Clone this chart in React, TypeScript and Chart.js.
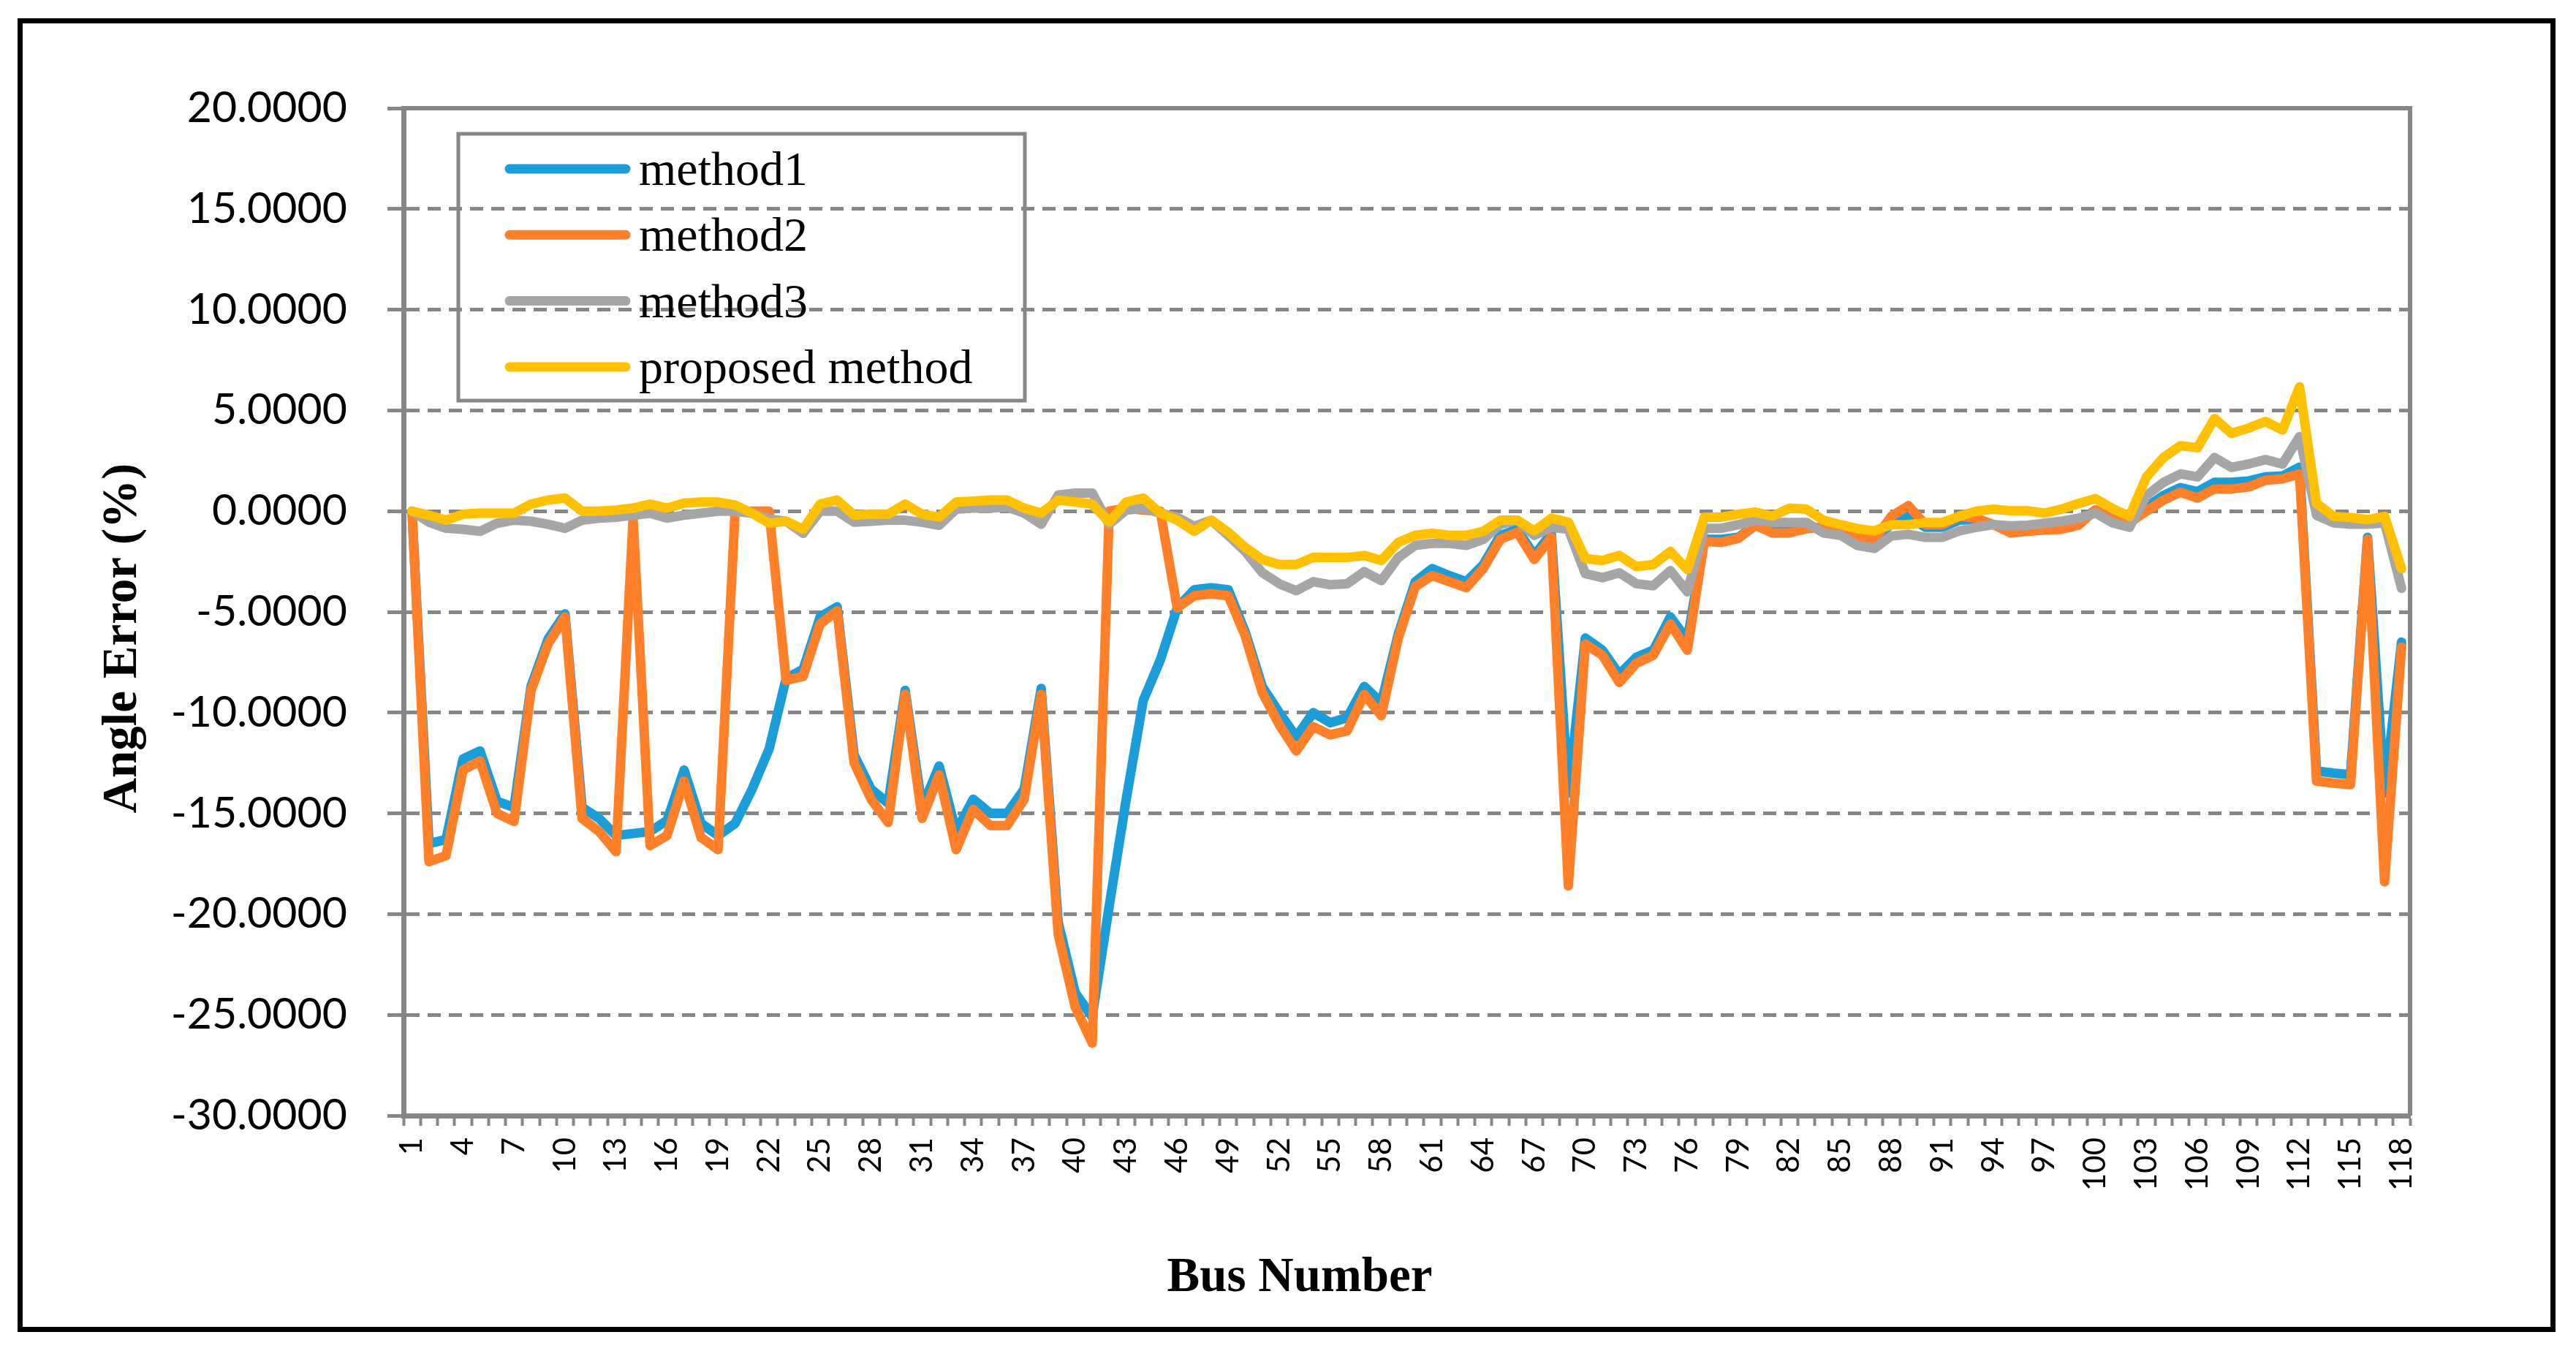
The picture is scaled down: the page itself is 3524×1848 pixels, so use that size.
import React, { useEffect, useRef } from "react";
import { Chart, registerables } from "chart.js";

Chart.register(...registerables);

const BUS_NUMBERS = [
  "1", "2", "3", "4", "5", "6", "7", "8", "9", "10",
  "11", "12", "13", "14", "15", "16", "17", "18", "19", "20",
  "21", "22", "23", "24", "25", "26", "27", "28", "29", "30",
  "31", "32", "33", "34", "35", "36", "37", "38", "39", "40",
  "41", "42", "43", "44", "45", "46", "47", "48", "49", "50",
  "51", "52", "53", "54", "55", "56", "57", "58", "59", "60",
  "61", "62", "63", "64", "65", "66", "67", "68", "69", "70",
  "71", "72", "73", "74", "75", "76", "77", "78", "79", "80",
  "81", "82", "83", "84", "85", "86", "87", "88", "89", "90",
  "91", "92", "93", "94", "95", "96", "97", "98", "99", "100",
  "101", "102", "103", "104", "105", "106", "107", "108", "109", "110",
  "111", "112", "113", "114", "115", "116", "117", "118",
];

const SHOWN_X_TICKS = [
  "1", "4", "7", "10", "13", "16", "19", "22", "25", "28", "31", "34", "37", "40",
  "43", "46", "49", "52", "55", "58", "61", "64", "67", "70", "73", "76", "79",
  "82", "85", "88", "91", "94", "97", "100", "103", "106", "109", "112", "115", "118",
];

const METHOD1 = [
  0, -16.5, -16.3, -12.3, -11.9, -14.4, -14.7, -8.7, -6.35, -5.1,
  -14.7, -15.25, -16.1, -16.0, -15.9, -15.35, -12.85, -15.5, -16.1, -15.5,
  -13.8, -11.8, -8.3, -7.85, -5.25, -4.75, -12.1, -13.8, -14.5, -8.9,
  -14.7, -12.65, -15.9, -14.3, -15.0, -15.0, -13.8, -8.8, -20.4, -23.9,
  -25.1, -19.6, -14.3, -9.4, -7.4, -4.8, -3.9, -3.8, -3.9, -6.0,
  -8.7, -10.0, -11.2, -10.0, -10.5, -10.25, -8.7, -9.5, -6.1, -3.5,
  -2.85, -3.2, -3.5, -2.65, -1.2, -0.9, -2.2, -1.1, -14.0, -6.3,
  -6.9, -8.1, -7.25, -6.9, -5.25, -6.4, -1.4, -1.4, -1.3, -0.65,
  -1.0, -1.0, -0.85, -0.8, -0.95, -1.25, -1.35, -0.65, -0.25, -0.8,
  -0.8, -0.45, -0.4, -0.67, -0.9, -0.85, -0.8, -0.75, -0.55, 0.06,
  -0.4, -0.55, 0.2, 0.78, 1.17, 0.97, 1.43, 1.43, 1.5, 1.7,
  1.75, 2.18, -12.9, -13.0, -13.08, -1.3, -14.0, -6.5,
];

const METHOD2 = [
  0, -17.4, -17.1, -12.85, -12.4, -15.0, -15.4, -8.9, -6.6, -5.25,
  -15.25, -15.9, -16.9, -0.35, -16.6, -16.1, -13.4, -16.2, -16.8, 0,
  0, 0, -8.4, -8.2, -5.6, -4.95, -12.5, -14.3, -15.45, -9.1,
  -15.25, -13.1, -16.8, -14.8, -15.6, -15.6, -14.3, -9.1, -21.0, -24.6,
  -26.4, 0, 0.15, 0.05, 0, -4.8, -4.2, -4.1, -4.2, -6.2,
  -9.0, -10.6, -11.9, -10.7, -11.1, -10.9, -9.1, -10.15, -6.3, -3.75,
  -3.2, -3.5, -3.8, -2.85, -1.4, -1.05, -2.4, -1.3, -18.6, -6.6,
  -7.15, -8.5, -7.55, -7.15, -5.6, -6.9, -1.5, -1.55, -1.35, -0.7,
  -1.08, -1.08, -0.87, -0.77, -1.0, -1.3, -1.4, -0.25, 0.27, -0.67,
  -0.67, -0.25, -0.35, -0.67, -1.08, -1.0, -0.94, -0.9, -0.7, 0.06,
  -0.42, -0.58, 0.0, 0.55, 0.94, 0.65, 1.1, 1.1, 1.2, 1.53,
  1.6, 1.85, -13.4, -13.5, -13.57, -1.4, -18.4, -6.75,
];

const METHOD3 = [
  0, -0.55, -0.85, -0.9, -1.0, -0.6, -0.45, -0.5, -0.65, -0.85,
  -0.45, -0.35, -0.3, -0.2, -0.1, -0.35, -0.2, -0.1, 0, 0,
  -0.1, -0.4, -0.5, -1.1, 0.0, 0.0, -0.55, -0.5, -0.45, -0.45,
  -0.55, -0.7, 0.1, 0.15, 0.15, 0.2, -0.1, -0.65, 0.8, 0.9,
  0.9, -0.65, 0.05, 0.15, -0.1, -0.3, -0.75, -0.45, -1.2, -2.0,
  -3.05, -3.6, -3.95, -3.5, -3.65, -3.6, -3.0, -3.45, -2.3, -1.7,
  -1.6, -1.6, -1.7, -1.4, -0.65, -0.45, -1.2, -0.8, -0.9, -3.1,
  -3.3, -3.06, -3.6, -3.7, -2.95, -4.0, -0.85, -0.85, -0.67, -0.45,
  -0.56, -0.56, -0.56, -1.08, -1.2, -1.7, -1.85, -1.23, -1.15, -1.3,
  -1.3, -0.98, -0.8, -0.67, -0.73, -0.7, -0.6, -0.5, -0.35, -0.1,
  -0.58, -0.8, 0.78, 1.43, 1.85, 1.7, 2.66, 2.17, 2.34, 2.56,
  2.34, 3.7, -0.2, -0.58, -0.65, -0.65, -0.58, -3.83,
];

const PROPOSED = [
  0, -0.2, -0.45, -0.15, -0.1, -0.1, -0.1, 0.35, 0.55, 0.65,
  0, 0, 0.05, 0.15, 0.35, 0.15, 0.4, 0.45, 0.45, 0.3,
  -0.1, -0.6, -0.5, -0.9, 0.35, 0.55, -0.2, -0.15, -0.15, 0.35,
  -0.15, -0.3, 0.45, 0.5, 0.55, 0.55, 0.15, -0.1, 0.55, 0.45,
  0.35, -0.55, 0.45, 0.65, -0.1, -0.45, -1.0, -0.45, -1.05, -1.8,
  -2.4, -2.65, -2.65, -2.3, -2.3, -2.3, -2.2, -2.45, -1.55, -1.2,
  -1.1, -1.2, -1.2, -1.0, -0.45, -0.45, -0.98, -0.35, -0.55, -2.35,
  -2.45, -2.2, -2.75, -2.65, -2.0, -2.9, -0.3, -0.3, -0.15, -0.05,
  -0.25, 0.15, 0.1, -0.45, -0.67, -0.87, -0.98, -0.67, -0.67, -0.56,
  -0.56, -0.25, 0, 0.1, 0.02, 0.02, -0.1, 0.1, 0.38, 0.62,
  0.13, -0.26, 1.7, 2.66, 3.25, 3.15, 4.6, 3.86, 4.12, 4.45,
  4.03, 6.17, 0.39, -0.26, -0.32, -0.42, -0.26, -2.86,
];

const SERIES_NAMES = ["method1", "method2", "method3", "proposed method"];
const SERIES_COLORS = ["#1B9DD8", "#FF8028", "#A6A6A6", "#FFC000"];
const Y_TITLE = "Angle Error (%)";
const X_TITLE = "Bus Number";
const AXIS_GRAY = "#868686";

const W = 3524;
const H = 1848;

const decorPlugin = {
  id: "decor",
  beforeDatasetsDraw(chart: any) {
    const { ctx, chartArea } = chart;
    ctx.save();
    ctx.strokeStyle = AXIS_GRAY;
    ctx.lineWidth = 6;
    ctx.beginPath();
    ctx.moveTo(chartArea.left, chartArea.top);
    ctx.lineTo(chartArea.right, chartArea.top);
    ctx.lineTo(chartArea.right, chartArea.bottom);
    ctx.stroke();
    ctx.restore();
  },
  afterDraw(chart: any) {
    const { ctx } = chart;
    ctx.save();
    ctx.strokeStyle = AXIS_GRAY;
    ctx.lineWidth = 5;
    ctx.strokeRect(627, 183, 775, 365);
    chart.data.datasets.forEach((ds: any, i: number) => {
      const y = 231 + i * 90.3;
      ctx.strokeStyle = ds.borderColor;
      ctx.lineWidth = 13;
      ctx.lineCap = "round";
      ctx.beginPath();
      ctx.moveTo(697, y);
      ctx.lineTo(856, y);
      ctx.stroke();
      ctx.fillStyle = "#000";
      ctx.font = '66px "Liberation Serif"';
      ctx.textAlign = "left";
      ctx.textBaseline = "alphabetic";
      ctx.fillText(ds.label, 874, y + 22);
    });
    ctx.fillStyle = "#000";
    ctx.font = 'bold 67px "Liberation Serif"';
    ctx.textAlign = "center";
    ctx.textBaseline = "alphabetic";
    ctx.fillText(X_TITLE, 1778, 1766);
    ctx.translate(186, 873);
    ctx.rotate(-Math.PI / 2);
    ctx.fillText(Y_TITLE, 0, 0);
    ctx.restore();
  },
};

export default function App() {
  const canvasRef = useRef<HTMLCanvasElement | null>(null);

  useEffect(() => {
    const canvas = canvasRef.current;
    if (!canvas) return;
    const seriesData = [METHOD1, METHOD2, METHOD3, PROPOSED];
    const chart = new Chart(canvas, {
      type: "line",
      data: {
        labels: BUS_NUMBERS,
        datasets: seriesData.map((d, i) => ({
          label: SERIES_NAMES[i],
          data: d,
          borderColor: SERIES_COLORS[i],
          backgroundColor: SERIES_COLORS[i],
          borderWidth: 13,
          pointRadius: 0,
          pointHoverRadius: 0,
          tension: 0,
          borderJoinStyle: "round",
          borderCapStyle: "round",
          fill: false,
          order: 4 - i,
        })),
      },
      options: {
        animation: false,
        responsive: false,
        devicePixelRatio: 1,
        layout: { padding: { left: 0, top: 148, right: 227, bottom: 0 } },
        plugins: {
          legend: { display: false },
          tooltip: { enabled: false },
          title: { display: false },
        },
        scales: {
          x: {
            type: "category",
            offset: true,
            afterFit: (s: any) => {
              s.height = 322;
            },
            grid: {
              offset: true,
              drawOnChartArea: false,
              drawTicks: true,
              tickLength: 14,
              tickWidth: 4,
              tickColor: AXIS_GRAY,
              color: AXIS_GRAY,
            },
            border: { display: true, color: AXIS_GRAY, width: 7 },
            ticks: {
              autoSkip: false,
              minRotation: 90,
              maxRotation: 90,
              padding: 16,
              color: "#000",
              font: { family: "Lato", size: 42 },
              callback: (_v: any, i: number) =>
                SHOWN_X_TICKS.includes(BUS_NUMBERS[i]) ? BUS_NUMBERS[i] : "",
            },
          },
          y: {
            min: -30,
            max: 20,
            afterFit: (s: any) => {
              s.width = 552;
            },
            grid: {
              color: AXIS_GRAY,
              lineWidth: 5,
              drawTicks: true,
              tickLength: 22,
              tickWidth: 5,
              tickColor: AXIS_GRAY,
            },
            border: { display: true, color: AXIS_GRAY, width: 7, dash: [18, 11] },
            ticks: {
              stepSize: 5,
              padding: 55,
              color: "#000",
              font: { family: "Lato", size: 59 },
              callback: (v: any) => Number(v).toFixed(4),
            },
          },
        },
      },
      plugins: [decorPlugin],
    } as any);
    return () => chart.destroy();
  }, []);

  return (
    <div
      style={{
        position: "fixed",
        left: 0,
        top: 0,
        width: W,
        height: H,
        background: "#fff",
        overflow: "hidden",
      }}
    >
      <canvas
        ref={canvasRef}
        width={W}
        height={H}
        style={{ position: "absolute", left: 0, top: 0, width: W, height: H }}
      />
      <div
        style={{
          position: "absolute",
          left: 24,
          top: 25,
          width: 3472,
          height: 1797,
          border: "7px solid #000",
          boxSizing: "border-box",
          pointerEvents: "none",
        }}
      />
    </div>
  );
}
